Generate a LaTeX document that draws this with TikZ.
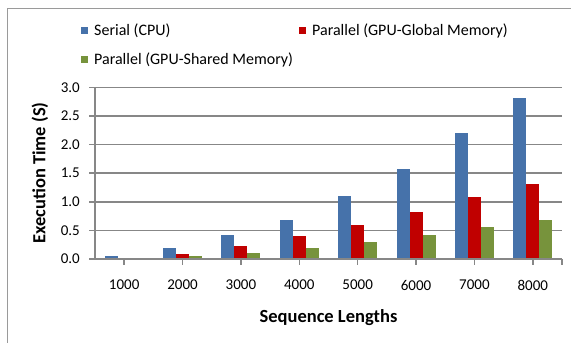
\documentclass[tikz,border=0pt]{standalone}
\usepackage{fontspec}
\setmainfont{Carlito}
\definecolor{serialc}{HTML}{4672AA}
\definecolor{globalc}{HTML}{C00000}
\definecolor{sharedc}{HTML}{77933C}
\definecolor{gridc}{HTML}{878787}
\definecolor{framec}{HTML}{9A9A9A}
\begin{document}
\begin{tikzpicture}[x=1pt,y=-1pt,
  lbl/.style={font=\fontsize{15}{16}\selectfont, inner sep=0pt},
  leglbl/.style={font=\fontsize{16}{17}\selectfont, inner sep=0pt},
  ttl/.style={font=\bfseries\fontsize{18.5}{20}\selectfont, inner sep=0pt},
  gridline/.style={draw=gridc, line width=1.5pt},
  axisline/.style={draw=gridc, line width=1.5pt}]
\useasboundingbox (0,0) rectangle (571,343);
\fill[white] (0,0) rectangle (571,343);
% chart frame
\draw[framec, line width=1pt] (7.5,343) -- (7.5,8) -- (571,8);
% gridlines and y tick labels
\foreach \v in {0.5,1.0,1.5,2.0,2.5,3.0} {
  \draw[gridline] (89,{259-57.2*\v}) -- (562,{259-57.2*\v});
}
\foreach \v/\t/\n in {0/0.0/y0,0.5/0.5/y1,1.0/1.0/y2,1.5/1.5/y3,2.0/2.0/y4,2.5/2.5/y5,3.0/3.0/y6} {
  \node[lbl, anchor=east] (\n) at (80,{259-57.2*\v}) {\t};
}
% bars
\foreach \k/\a/\b/\c in {1/0.05/0/0, 2/0.2/0.09/0.06, 3/0.42/0.23/0.11, 4/0.68/0.40/0.19, 5/1.10/0.59/0.30, 6/1.57/0.82/0.42, 7/2.21/1.08/0.565, 8/2.82/1.31/0.69} {
  \pgfmathsetmacro\cx{95+58.375*(\k-0.5)}
  \fill[serialc] (\cx-19.5,259) rectangle (\cx-6.5,{259-57.2*\a});
  \fill[globalc] (\cx-6.5,259) rectangle (\cx+6.5,{259-57.2*\b});
  \fill[sharedc] (\cx+6.5,259) rectangle (\cx+19.5,{259-57.2*\c});
  \draw[axisline] (\cx,259) -- (\cx,265);
  \pgfmathtruncatemacro\lab{\k*1000}
  \node[lbl] (x\k) at (\cx,285) {\lab};
}
% axes
\draw[axisline] (95,87.4) -- (95,259);
\draw[axisline] (89,259) -- (562,259);
\draw[axisline] (562,259) -- (562,265);
% axis titles
\node[ttl] (xtitle) at (328.5,318) {Sequence Lengths};
\node[ttl, rotate=90] (ytitle) at (40,173) {Execution Time (S)};
% legend
\fill[serialc] (81,27) rectangle (88,34);
\node[leglbl, anchor=west] (leg1) at (94,30.5) {Serial (CPU)};
\fill[globalc] (299,27) rectangle (306,34);
\node[leglbl, anchor=west] (leg2) at (312,30.5) {Parallel (GPU-Global Memory)};
\fill[sharedc] (81,56) rectangle (88,63);
\node[leglbl, anchor=west] (leg3) at (94,59.5) {Parallel (GPU-Shared Memory)};
\end{tikzpicture}
\end{document}
